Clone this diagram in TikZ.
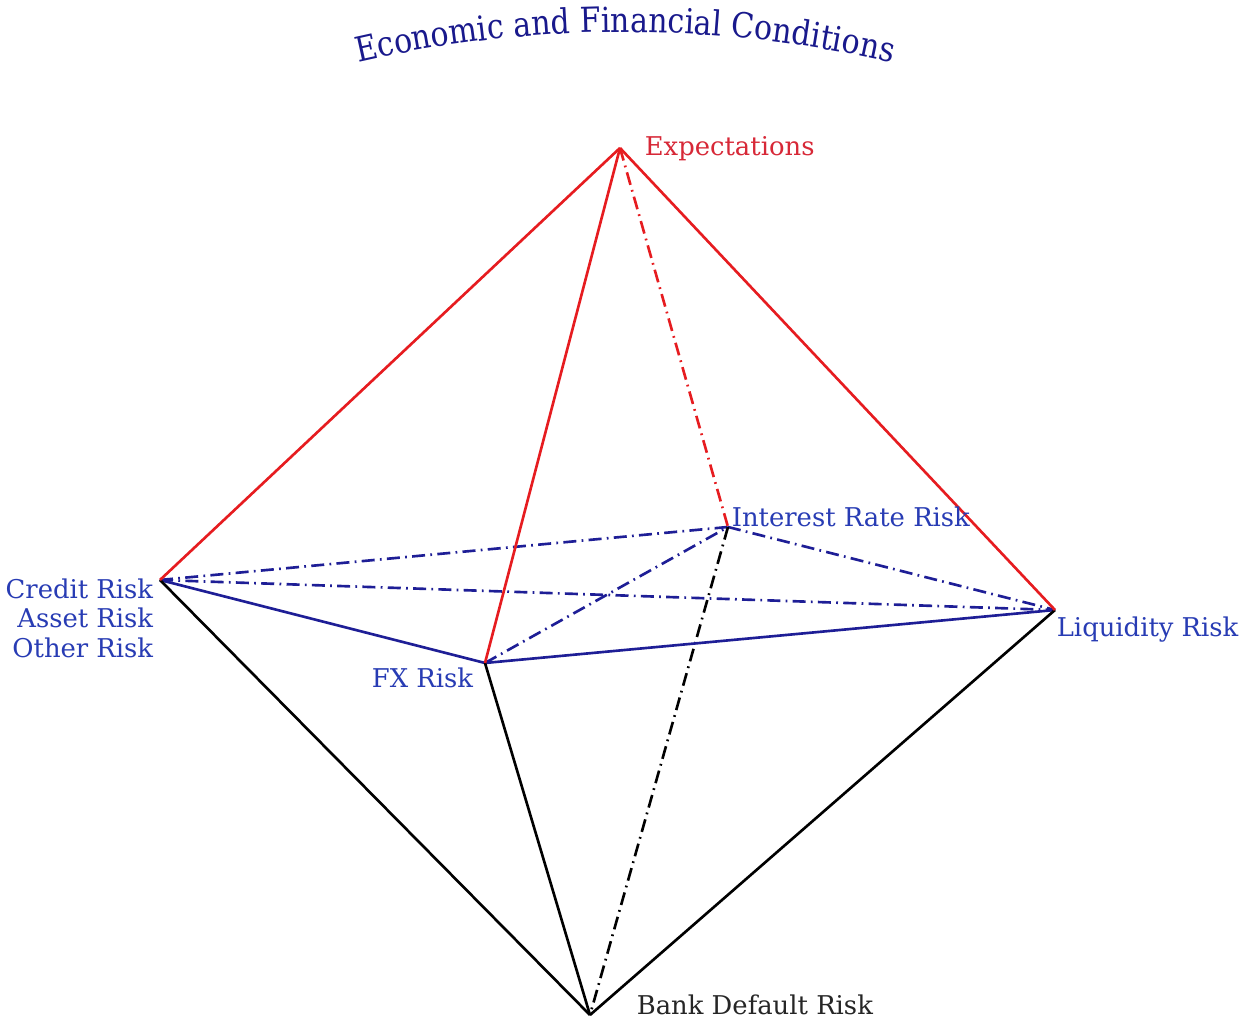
\documentclass[tikz,border=0pt]{standalone}
\usepackage{fontspec}
\setmainfont{DejaVu Serif}
\newfontfamily\titlefont[FakeStretch=0.87]{DejaVu Serif}
\usetikzlibrary{decorations.text}

\definecolor{redline}{RGB}{230,28,32}
\definecolor{blueline}{RGB}{30,30,150}
\definecolor{bluetext}{RGB}{40,60,180}
\definecolor{titleblue}{RGB}{25,25,140}
\definecolor{redtext}{RGB}{215,40,55}

\begin{document}
\begin{tikzpicture}[x=0.01cm,y=0.01cm,line width=0.75pt,
  dashdot/.style={dash pattern=on 3.7pt off 1.5pt on 0.5pt off 1.5pt},
  lbl/.style={font=\fontsize{7.35}{8.4}\selectfont,inner sep=1pt}]
  \useasboundingbox (0,0) rectangle (1247,1018);
  % vertices
  \coordinate (E) at (620,870);
  \coordinate (C) at (160,438);
  \coordinate (L) at (1055,408);
  \coordinate (F) at (485,355);
  \coordinate (I) at (728,491);
  \coordinate (B) at (590,3);
  % hidden edges
  \draw[blueline,dashdot] (C)--(I);
  \draw[blueline,dashdot] (C)--(L);
  \draw[blueline,dashdot] (I)--(L);
  \draw[blueline,dashdot] (F)--(I);
  \draw[redline,dashdot] (E)--(I);
  \draw[black,dashdot] (I)--(B);
  % front edges
  \draw[blueline] (C)--(F)--(L);
  \draw[black] (C)--(B);
  \draw[black] (F)--(B);
  \draw[black] (L)--(B);
  \draw[redline] (E)--(C);
  \draw[redline] (E)--(L);
  \draw[redline] (E)--(F);
  % labels
  \node[lbl,redtext,anchor=west] (expect) at (640,869) {Expectations};
  \node[lbl,bluetext,anchor=west] (irisk) at (727,501) {Interest Rate Risk};
  \node[lbl,bluetext,anchor=west] (lrisk) at (1052,388) {Liquidity Risk};
  \node[lbl,bluetext,anchor=east] (fxrisk) at (478,340) {FX Risk};
  \node[lbl,bluetext,anchor=east,align=right] (crisk) at (158,400)
    {Credit Risk\\Asset Risk\\Other Risk};
  \node[lbl,black!85,anchor=west] (bank) at (632,13) {Bank Default Risk};
  % title
  \path[decorate,decoration={text along path,text align=center,
    text={|\titlefont\fontsize{9.8}{11}\selectfont\color{titleblue}|Economic and Financial Conditions}}]
    (625,-199) ++(103.5:1185) arc[start angle=103.5,end angle=76.5,radius=1185];
\end{tikzpicture}
\end{document}
